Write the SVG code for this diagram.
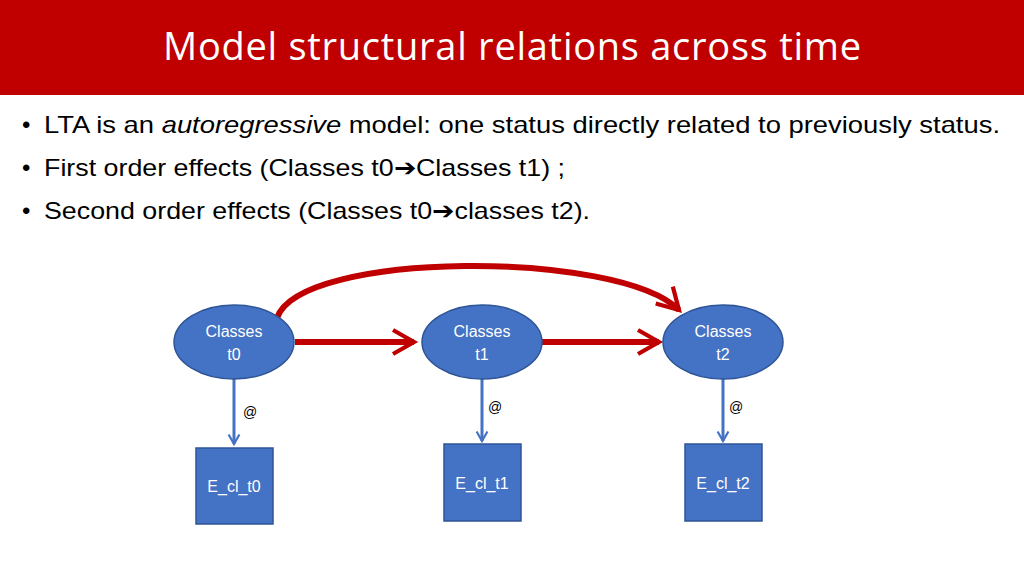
<svg xmlns="http://www.w3.org/2000/svg" width="1024" height="576" viewBox="0 0 1024 576">
<style>
text{font-family:"Liberation Sans","Open Sans",sans-serif}
.b{font-size:24px;fill:#000}
.n{font-size:16px;fill:#fff;text-anchor:middle}
.at{font-size:14px;fill:#000}
.red{fill:none;stroke:#C00000;stroke-width:6}
.blue{fill:none;stroke:#4472C4;stroke-width:3}
.node{fill:#4472C4;stroke:#2F5597;stroke-width:1.5}
</style>
<defs>
<marker id="rh" viewBox="0 0 10 10" refX="8" refY="5" markerWidth="5" markerHeight="5" orient="auto" markerUnits="strokeWidth">
<path d="M1,1 L8,5 L1,9" fill="none" stroke="#C00000" stroke-width="1.4"/>
</marker>
<marker id="bh" viewBox="0 0 10 10" refX="8" refY="5" markerWidth="4.5" markerHeight="4.5" orient="auto" markerUnits="strokeWidth">
<path d="M1,1 L8,5 L1,9" fill="none" stroke="#4472C4" stroke-width="1.6"/>
</marker>
</defs>
<rect x="0" y="0" width="1024" height="95" fill="#C00000"/>
<text x="512" y="60" font-size="38" fill="#fff" text-anchor="middle" style="font-family:'Open Sans','Liberation Sans',sans-serif" textLength="698">Model structural relations across time</text>
<text class="b" x="22" y="133">•</text><text class="b" x="44" y="133" textLength="956" lengthAdjust="spacingAndGlyphs">LTA is an <tspan font-style="italic">autoregressive</tspan> model: one  status directly related to previously status.</text>
<text class="b" x="22" y="176">•</text><text class="b" x="44" y="176" textLength="521" lengthAdjust="spacingAndGlyphs">First order effects (Classes t0➔Classes t1) ;</text>
<text class="b" x="22" y="219">•</text><text class="b" x="44" y="219" textLength="546" lengthAdjust="spacingAndGlyphs">Second order effects (Classes t0➔classes t2).</text>
<g id="connectors">
<path class="red" d="M295,342 H414" marker-end="url(#rh)"/>
<path class="red" d="M542,342 H659" marker-end="url(#rh)"/>
<path class="red" d="M277,318 C300,250 620,250 679,310" marker-end="url(#rh)"/>
<path class="blue" d="M234,379 V444" marker-end="url(#bh)"/>
<path class="blue" d="M482,379 V441" marker-end="url(#bh)"/>
<path class="blue" d="M723,379 V441" marker-end="url(#bh)"/>
<text class="at" x="243" y="417">@</text>
<text class="at" x="488" y="412">@</text>
<text class="at" x="729" y="412">@</text>
</g>
<g id="ct0"><ellipse class="node" cx="234" cy="342" rx="60" ry="37"/><text class="n" x="234" y="337">Classes</text><text class="n" x="234" y="360">t0</text></g>
<g id="ct1"><ellipse class="node" cx="482" cy="342" rx="60" ry="37"/><text class="n" x="482" y="337">Classes</text><text class="n" x="482" y="360">t1</text></g>
<g id="ct2"><ellipse class="node" cx="723" cy="342" rx="60" ry="37"/><text class="n" x="723" y="337">Classes</text><text class="n" x="723" y="360">t2</text></g>
<g id="e0"><rect class="node" x="196" y="448" width="77" height="76"/><text class="n" x="234" y="492">E_cl_t0</text></g>
<g id="e1"><rect class="node" x="444" y="444" width="77" height="77"/><text class="n" x="482" y="489">E_cl_t1</text></g>
<g id="e2"><rect class="node" x="685" y="444" width="77" height="77"/><text class="n" x="723" y="489">E_cl_t2</text></g>
</svg>
